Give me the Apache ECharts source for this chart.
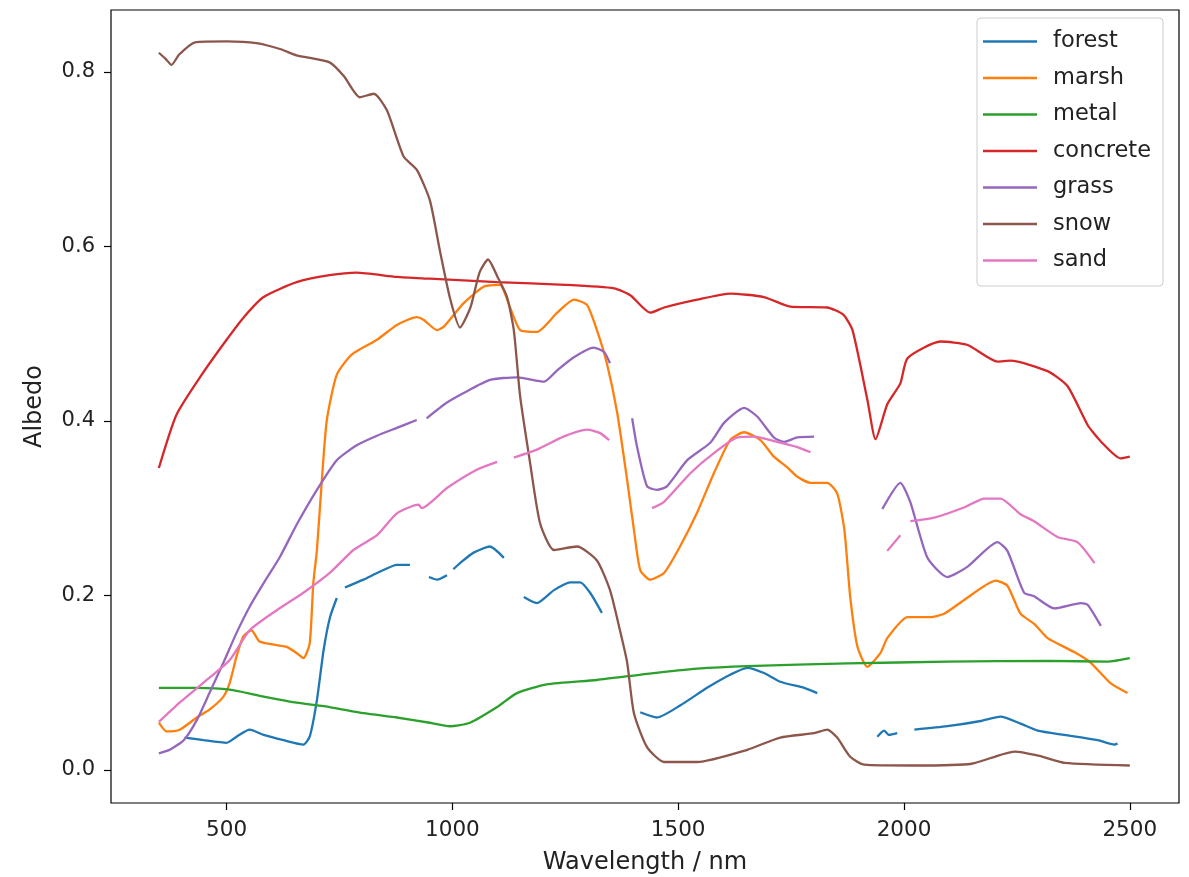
<!DOCTYPE html>
<html>
<head>
<meta charset="utf-8">
<script src="https://cdn.jsdelivr.net/npm/echarts@6/dist/echarts.min.js"></script>
<style>
  html, body { margin: 0; padding: 0; background: #fff; }
  #chart { width: 1189px; height: 877px; }
</style>
</head>
<body>
<div id="chart"></div>
<script>
// wavelength (nm), albedo ; null marks a gap in the measurement
const forestData = [[407,0.037],[449,0.034],[500,0.031],[522,0.038],[551,0.046],[582,0.040],[626,0.034],[670,0.029],[684,0.038],[700,0.080],[715,0.138],[729,0.175],[744,0.197],[753,null],[762,0.209],[803,0.218],[839,0.227],[877,0.235],[906,0.235],[927,null],[948,0.221],[966,0.218],[988,0.223],[995,null],[1002,0.230],[1017,0.237],[1047,0.249],[1083,0.256],[1114,0.243],[1136,null],[1158,0.198],[1187,0.191],[1225,0.206],[1261,0.215],[1283,0.215],[1305,0.203],[1331,0.180],[1375,null],[1416,0.066],[1453,0.060],[1505,0.074],[1564,0.094],[1615,0.109],[1653,0.117],[1690,0.111],[1726,0.101],[1779,0.094],[1808,0.088],[1875,null],[1941,0.038],[1956,0.045],[1967,0.040],[1985,0.042],[2004,null],[2023,0.046],[2096,0.050],[2170,0.056],[2214,0.061],[2258,0.053],[2296,0.045],[2355,0.040],[2429,0.034],[2466,0.029],[2473,0.030]];
const marshData = [[350,0.054],[367,0.044],[396,0.046],[434,0.060],[462,0.069],[493,0.084],[507,0.100],[522,0.130],[537,0.153],[555,0.160],[573,0.147],[611,0.143],[633,0.141],[655,0.134],[670,0.128],[684,0.145],[692,0.214],[700,0.252],[712,0.340],[722,0.401],[744,0.453],[777,0.476],[833,0.493],[877,0.510],[921,0.519],[936,0.516],[966,0.504],[981,0.508],[1025,0.535],[1070,0.554],[1105,0.556],[1127,0.531],[1150,0.504],[1187,0.502],[1232,0.524],[1269,0.539],[1298,0.533],[1320,0.504],[1342,0.466],[1365,0.409],[1387,0.332],[1402,0.275],[1416,0.229],[1438,0.218],[1469,0.226],[1504,0.256],[1542,0.295],[1579,0.340],[1615,0.378],[1646,0.387],[1682,0.378],[1712,0.359],[1741,0.347],[1764,0.336],[1793,0.329],[1830,0.329],[1852,0.317],[1868,0.275],[1881,0.198],[1897,0.141],[1919,0.118],[1948,0.134],[1963,0.151],[2008,0.175],[2059,0.175],[2089,0.179],[2134,0.195],[2203,0.217],[2229,0.211],[2258,0.179],[2289,0.167],[2318,0.151],[2377,0.135],[2413,0.123],[2458,0.099],[2495,0.088]];
const metalData = [[350,0.094],[434,0.094],[507,0.092],[582,0.084],[655,0.077],[728,0.072],[803,0.065],[877,0.060],[950,0.054],[994,0.050],[1039,0.054],[1099,0.072],[1143,0.088],[1209,0.098],[1320,0.103],[1431,0.110],[1542,0.116],[1653,0.119],[1875,0.122],[2096,0.124],[2318,0.125],[2451,0.124],[2500,0.128]];
const concreteData = [[350,0.346],[389,0.407],[445,0.453],[500,0.493],[540,0.520],[582,0.542],[655,0.559],[728,0.567],[788,0.570],[877,0.565],[950,0.563],[1099,0.559],[1250,0.556],[1358,0.552],[1394,0.544],[1438,0.524],[1469,0.530],[1542,0.539],[1615,0.546],[1690,0.542],[1748,0.531],[1830,0.530],[1865,0.522],[1886,0.504],[1919,0.424],[1937,0.379],[1963,0.419],[1992,0.443],[2008,0.472],[2081,0.491],[2141,0.487],[2207,0.468],[2236,0.469],[2318,0.457],[2362,0.440],[2407,0.395],[2435,0.377],[2480,0.357],[2500,0.359]];
const grassData = [[350,0.019],[374,0.023],[405,0.034],[434,0.057],[462,0.088],[493,0.123],[522,0.157],[551,0.187],[582,0.214],[618,0.244],[655,0.281],[700,0.321],[744,0.355],[788,0.372],[833,0.383],[877,0.392],[921,0.401],[932,null],[943,0.403],[988,0.421],[1025,0.432],[1083,0.447],[1143,0.450],[1203,0.445],[1232,0.458],[1269,0.473],[1313,0.484],[1336,0.479],[1349,0.466],[1375,null],[1398,0.403],[1409,0.370],[1431,0.325],[1453,0.321],[1475,0.325],[1520,0.355],[1571,0.375],[1602,0.398],[1646,0.415],[1675,0.405],[1712,0.381],[1735,0.376],[1764,0.381],[1801,0.382],[1875,null],[1952,0.299],[1992,0.329],[2014,0.307],[2052,0.243],[2096,0.221],[2141,0.233],[2207,0.261],[2229,0.251],[2266,0.203],[2288,0.199],[2333,0.185],[2392,0.191],[2407,0.189],[2436,0.165]];
const snowData = [[350,0.822],[365,0.815],[378,0.808],[395,0.820],[430,0.834],[500,0.835],[566,0.833],[620,0.826],[655,0.819],[728,0.811],[760,0.795],[795,0.771],[826,0.775],[855,0.756],[892,0.703],[921,0.688],[950,0.653],[972,0.596],[995,0.540],[1017,0.507],[1040,0.530],[1060,0.570],[1079,0.585],[1100,0.565],[1121,0.542],[1136,0.504],[1150,0.428],[1172,0.352],[1194,0.283],[1225,0.252],[1276,0.256],[1320,0.240],[1349,0.206],[1371,0.160],[1387,0.123],[1402,0.065],[1431,0.026],[1469,0.009],[1542,0.009],[1653,0.023],[1726,0.037],[1801,0.042],[1830,0.046],[1852,0.037],[1881,0.015],[1912,0.006],[2023,0.005],[2150,0.007],[2245,0.021],[2300,0.016],[2356,0.008],[2500,0.005]];
const sandData = [[350,0.055],[396,0.077],[449,0.100],[507,0.126],[551,0.160],[611,0.183],[670,0.203],[729,0.226],[781,0.252],[833,0.269],[877,0.294],[925,0.304],[932,0.300],[988,0.323],[1054,0.344],[1099,0.353],[1118,null],[1136,0.358],[1187,0.367],[1246,0.382],[1298,0.390],[1327,0.386],[1347,0.378],[1395,null],[1442,0.300],[1468,0.307],[1527,0.340],[1579,0.363],[1631,0.381],[1668,0.382],[1719,0.376],[1764,0.370],[1793,0.364],[1875,null],[1963,0.251],[1992,0.269],[2003,null],[2014,0.285],[2067,0.289],[2134,0.301],[2178,0.311],[2214,0.311],[2258,0.293],[2288,0.285],[2340,0.267],[2384,0.261],[2422,0.237]];

const seriesNames = ['forest', 'marsh', 'metal', 'concrete', 'grass', 'snow', 'sand'];
const seriesData = [forestData, marshData, metalData, concreteData, grassData, snowData, sandData];
const xTicks = [500, 1000, 1500, 2000, 2500];
const yTicks = [0, 0.2, 0.4, 0.6, 0.8];

const colors = ['#1f77b4', '#ff7f0e', '#2ca02c', '#d62728', '#9467bd', '#8c564b', '#e377c2'];
const font = 'DejaVu Sans';

const chart = echarts.init(document.getElementById('chart'));

const option = {
  animation: false,
  color: colors,
  grid: {
    left: 111, right: 10, top: 10, bottom: 74,
    outerBoundsMode: 'none',
    containLabel: false,
    show: true, borderColor: '#000', borderWidth: 1.2, backgroundColor: 'transparent'
  },
  legend: {
    orient: 'vertical',
    left: 977, top: 18,
    width: 175,
    padding: [12, 12, 14, 6],
    icon: 'rect',
    itemWidth: 54, itemHeight: 2.6, itemGap: 13.5,
    backgroundColor: 'rgba(255,255,255,0.8)',
    borderColor: '#cccccc', borderWidth: 1, borderRadius: 4,
    textStyle: { fontFamily: font, fontSize: 22.5, lineHeight: 22, color: '#222', padding: [0, 0, 0, 11] },
    data: seriesNames
  },
  xAxis: {
    type: 'value',
    min: 244, max: 2609,
    name: 'Wavelength / nm',
    nameLocation: 'middle', nameGap: 48,
    nameTextStyle: { fontFamily: font, fontSize: 24, color: '#222' },
    axisLine: { show: false, onZero: false },
    splitLine: { show: false },
    axisTick: { show: true, inside: false, length: 7, lineStyle: { color: '#000', width: 1.2 }, customValues: xTicks },
    axisLabel: { fontFamily: font, fontSize: 21.5, color: '#222', margin: 16, customValues: xTicks, formatter: v => String(v) }
  },
  yAxis: {
    type: 'value',
    min: -0.038, max: 0.871,
    name: 'Albedo',
    nameLocation: 'middle', nameGap: 64, nameRotate: 90,
    nameTextStyle: { fontFamily: font, fontSize: 24, color: '#222' },
    axisLine: { show: false, onZero: false },
    splitLine: { show: false },
    axisTick: { show: true, inside: false, length: 7, lineStyle: { color: '#000', width: 1.2 }, customValues: yTicks },
    axisLabel: { fontFamily: font, fontSize: 21, color: '#222', margin: 16, customValues: yTicks, formatter: v => v.toFixed(1) }
  },
  series: seriesNames.map((name, i) => ({
    name: name,
    type: 'line',
    data: seriesData[i],
    symbol: 'none',
    smooth: 0.2,
    connectNulls: false,
    lineStyle: { width: 2.3, color: colors[i] },
    itemStyle: { color: colors[i] }
  }))
};

chart.setOption(option);
</script>
</body>
</html>
